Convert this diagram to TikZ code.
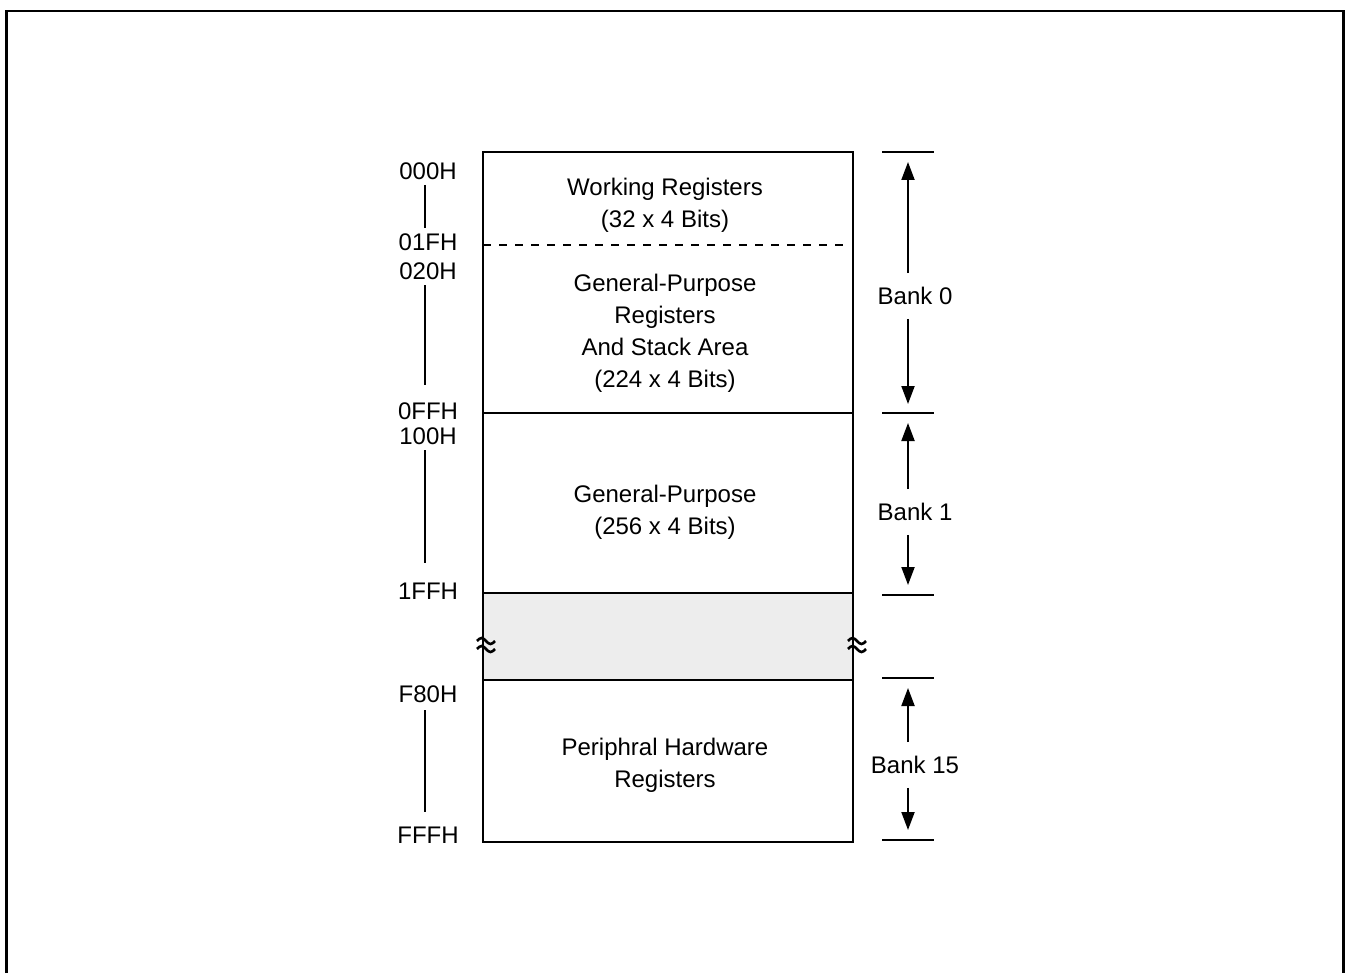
\documentclass[tikz,border=0pt]{standalone}
\usepackage{fontspec}
\setmainfont{Liberation Sans}
\usetikzlibrary{arrows.meta}
\begin{document}
\begin{tikzpicture}[x=0.5pt,y=-0.5pt,
  line width=1pt,
  txt/.style={font=\fontsize{12}{16}\selectfont, align=center, inner sep=0pt},
  addr/.style={font=\fontsize{12}{16}\selectfont, inner sep=0pt},
  bank/.style={font=\fontsize{12}{16}\selectfont, inner sep=0pt, outer sep=7pt},
  tickln/.style={line width=1pt},
  dimarrow/.style={line width=1pt, -{Triangle[length=9pt,width=6.5pt]}},
  brk/.style={line width=1.3pt}]
\useasboundingbox (0,0) rectangle (1347,973);

% outer frame, open at the bottom
\draw[line width=1.1pt] (6.5,973) -- (6.5,11) -- (1343.5,11) -- (1343.5,973);

% memory map column
\fill[black!7] (483,593) rectangle (853,680);
\draw (483,152) rectangle (853,842);
\draw (483,413) -- (853,413);
\draw (483,593) -- (853,593);
\draw (483,680) -- (853,680);
\draw[dash pattern=on 4pt off 4pt] (483,245) -- (845,245);

% break marks on the unused region
\foreach \bx in {486,857}{
  \draw[brk] (\bx-9,641) sin (\bx-4.5,638) cos (\bx,641) sin (\bx+4.5,644) cos (\bx+9,641);
  \draw[brk] (\bx-9,649) sin (\bx-4.5,646) cos (\bx,649) sin (\bx+4.5,652) cos (\bx+9,649);
}

% region contents
\node[txt] (wr) at (665,205) {Working Registers\\(32 x 4 Bits)};
\node[txt] (gp0) at (665,333) {General-Purpose\\Registers\\And Stack Area\\(224 x 4 Bits)};
\node[txt] (gp1) at (665,512) {General-Purpose\\(256 x 4 Bits)};
\node[txt] (phr) at (665,765) {Periphral Hardware\\Registers};

% addresses
\node[addr] (a000) at (428,171) {000H};
\node[addr] (a01f) at (428,242) {01FH};
\node[addr] (a020) at (428,271) {020H};
\node[addr] (a0ff) at (428,411) {0FFH};
\node[addr] (a100) at (428,436) {100H};
\node[addr] (a1ff) at (428,591) {1FFH};
\node[addr] (af80) at (428,694) {F80H};
\node[addr] (afff) at (428,835) {FFFH};
\draw (425,185) -- (425,228);
\draw (425,285) -- (425,385);
\draw (425,450) -- (425,563);
\draw (425,710) -- (425,812);

% bank extents
\foreach \n/\ty in {t0/152,t1/413,t2/595,t3/678,t4/840}{
  \coordinate (\n) at (908,\ty);
  \draw[tickln] (882,\ty) -- (934,\ty);
}
\coordinate (t0e) at (908,162);
\coordinate (t1u) at (908,404);
\coordinate (t1d) at (908,423);
\coordinate (t2e) at (908,585);
\coordinate (t3e) at (908,688);
\coordinate (t4e) at (908,830);

\node[bank] (b0) at (915,296) {Bank 0};
\node[bank] (b1) at (915,512) {Bank 1};
\node[bank] (b15) at (915,765) {Bank 15};

\draw[dimarrow] (b0.north -| t0e) -- (t0e);
\draw[dimarrow] (b0.south -| t1u) -- (t1u);
\draw[dimarrow] (b1.north -| t1d) -- (t1d);
\draw[dimarrow] (b1.south -| t2e) -- (t2e);
\draw[dimarrow] (b15.north -| t3e) -- (t3e);
\draw[dimarrow] (b15.south -| t4e) -- (t4e);
\end{tikzpicture}
\end{document}
